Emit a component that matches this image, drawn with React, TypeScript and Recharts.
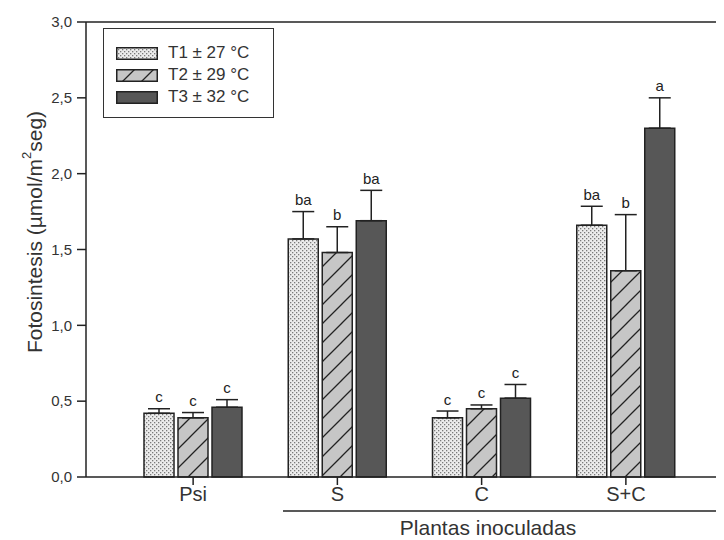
import React from 'react'
import {
  BarChart,
  Bar,
  XAxis,
  YAxis,
  ErrorBar,
  LabelList,
  Legend,
  ReferenceLine,
} from 'recharts'

const categories = ['Psi', 'S', 'C', 'S+C']
const t1 = [0.42, 1.57, 0.39, 1.66]
const t2 = [0.39, 1.48, 0.45, 1.36]
const t3 = [0.46, 1.69, 0.52, 2.3]
const t1Err = [0.03, 0.18, 0.045, 0.125]
const t2Err = [0.035, 0.17, 0.025, 0.37]
const t3Err = [0.05, 0.2, 0.09, 0.2]
const t1Letters = ['c', 'ba', 'c', 'ba']
const t2Letters = ['c', 'b', 'c', 'b']
const t3Letters = ['c', 'ba', 'c', 'a']
const yTicks = [0, 0.5, 1, 1.5, 2, 2.5, 3]
const seriesNames = ['T1 \u00b1 27 \u00b0C', 'T2 \u00b1 29 \u00b0C', 'T3 \u00b1 32 \u00b0C']

const data = categories.map((c, i) => ({
  cat: c,
  t1: t1[i],
  t2: t2[i],
  t3: t3[i],
  e1: [0, t1Err[i]],
  e2: [0, t2Err[i]],
  e3: [0, t3Err[i]],
  l1: t1Letters[i],
  l2: t2Letters[i],
  l3: t3Letters[i],
}))

const FONT = '"Liberation Sans", Arial, sans-serif'
const fills = ['url(#dots)', 'url(#hatch)', '#575757']

// letter above the error whisker
const letterLabel = (vals: number[], errs: number[]) => (props: any) => {
  const { x, y, width, height, value, index } = props
  const ppu = height / vals[index]
  const top = y - errs[index] * ppu
  return (
    <text
      x={x + width / 2}
      y={top - 6.5}
      textAnchor="middle"
      fontSize={15}
      fontFamily={FONT}
      fill="#222"
    >
      {value}
    </text>
  )
}

const YLabel = (props: any) => {
  const x = 34
  const y = 232
  return (
    <text
      x={x}
      y={y}
      transform={`rotate(-90, ${x}, ${y})`}
      textAnchor="middle"
      dominantBaseline="central"
      fontSize={21}
      fontFamily={FONT}
      fill="#333"
    >
      Fotosintesis (µmol/m
      <tspan fontSize={13} dy={-8}>2</tspan>
      <tspan dy={8}>seg)</tspan>
    </text>
  )
}

const XGroupLabel = (props: any) => {
  const vb = props.viewBox || { x: 86, y: 477 }
  return (
    <g>
      <line x1={vb.x + 197} x2={vb.x + 700} y1={vb.y + 34} y2={vb.y + 34} stroke="#222" strokeWidth={1.5} />
      <text
        x={488}
        y={vb.y + 58}
        textAnchor="middle"
        fontSize={21}
        fontFamily={FONT}
        fill="#333"
      >
        Plantas inoculadas
      </text>
    </g>
  )
}

const LegendBox = () => (
  <div
    style={{
      border: '1.5px solid #333',
      width: 171,
      height: 90,
      boxSizing: 'border-box',
      padding: '13px 0 0 12px',
      fontFamily: FONT,
      fontSize: 17,
      color: '#333',
      background: '#fff',
    }}
  >
    {seriesNames.map((n, i) => (
      <div key={n} style={{ display: 'flex', alignItems: 'center', height: 22 }}>
        <svg width={42} height={13} style={{ marginRight: 10 }}>
          <rect x={0.75} y={0.75} width={40.5} height={11.5} fill={fills[i]} stroke="#222" strokeWidth={1.5} />
        </svg>
        <span>{n}</span>
      </div>
    ))}
  </div>
)

export default function App() {
  return (
    <div style={{ margin: '-8px 0 0 -8px', width: 724, height: 540, overflow: 'hidden', background: '#fff' }}>
      <BarChart
        width={760}
        height={540}
        data={data}
        margin={{ top: 22, right: 0, left: 0, bottom: 23 }}
        barSize={30}
        barGap={4}
      >
        <defs>
          <pattern id="dots" patternUnits="userSpaceOnUse" width={4} height={4}>
            <rect width={4} height={4} fill="#ececec" />
            <rect x={0} y={0} width={1.3} height={1.3} fill="#7a7a7a" />
            <rect x={2} y={2} width={1.3} height={1.3} fill="#7a7a7a" />
          </pattern>
          <pattern id="hatch" patternUnits="userSpaceOnUse" width={19} height={19}>
            <rect width={19} height={19} fill="#c6c6c6" />
            <path d="M0,19 L19,0 M-5,5 L5,-5 M14,24 L24,14" stroke="#222" strokeWidth={1.3} />
          </pattern>
        </defs>
        <XAxis
          dataKey="cat"
          height={40}
          padding={{ left: 35, right: 62 }}
          axisLine={{ stroke: '#222', strokeWidth: 1.5 }}
          tickLine={{ stroke: '#222', strokeWidth: 1.5 }}
          tickSize={8}
          tickMargin={2}
          tick={{ fontSize: 20, fontFamily: FONT, fill: '#333' }}
          label={<XGroupLabel />}
        />
        <YAxis
          width={86}
          domain={[0, 3]}
          ticks={yTicks}
          interval={0}
          tickFormatter={(v: number) => v.toFixed(1).replace('.', ',')}
          axisLine={{ stroke: '#222', strokeWidth: 1.5 }}
          tickLine={{ stroke: '#222', strokeWidth: 1.5 }}
          tickSize={9}
          tickMargin={5}
          tick={{ fontSize: 15, fontFamily: FONT, fill: '#333' }}
          label={<YLabel />}
        />
        <ReferenceLine y={3} stroke="#222" strokeWidth={1.5} />
        <Legend
          layout="vertical"
          align="center"
          verticalAlign="middle"
          content={() => <LegendBox />}
          wrapperStyle={{ left: 103, top: 28, right: 'auto', bottom: 'auto', width: 171 }}
        />
        <Bar dataKey="t1" name={seriesNames[0]} fill="url(#dots)" stroke="#222" strokeWidth={1.5} isAnimationActive={false}>
          <ErrorBar dataKey="e1" width={11} stroke="#222" strokeWidth={1.5} direction="y" />
          <LabelList dataKey="l1" content={letterLabel(t1, t1Err)} />
        </Bar>
        <Bar dataKey="t2" name={seriesNames[1]} fill="url(#hatch)" stroke="#222" strokeWidth={1.5} isAnimationActive={false}>
          <ErrorBar dataKey="e2" width={11} stroke="#222" strokeWidth={1.5} direction="y" />
          <LabelList dataKey="l2" content={letterLabel(t2, t2Err)} />
        </Bar>
        <Bar dataKey="t3" name={seriesNames[2]} fill="#575757" stroke="#222" strokeWidth={1.5} isAnimationActive={false}>
          <ErrorBar dataKey="e3" width={11} stroke="#222" strokeWidth={1.5} direction="y" />
          <LabelList dataKey="l3" content={letterLabel(t3, t3Err)} />
        </Bar>
      </BarChart>
    </div>
  )
}
